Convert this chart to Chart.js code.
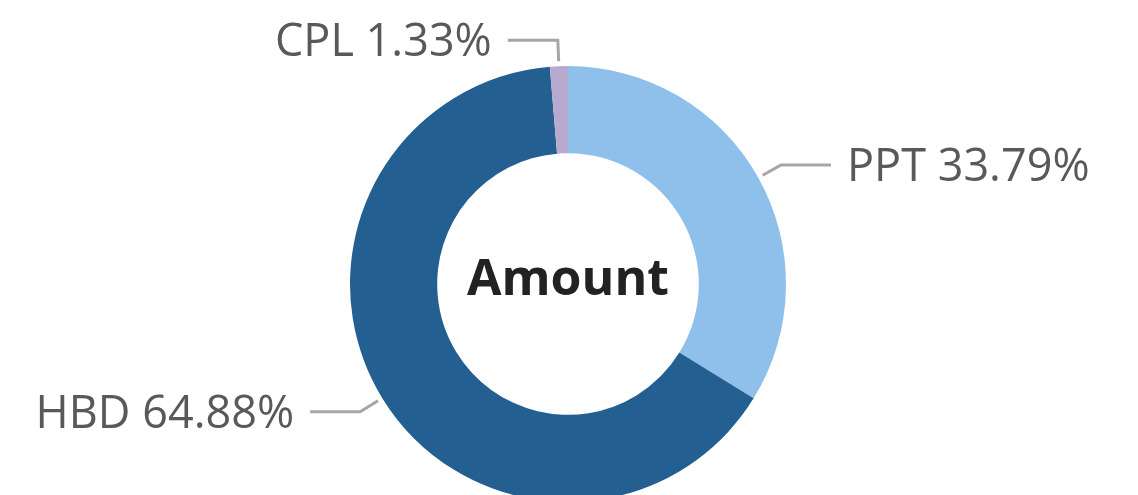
<!DOCTYPE html>
<html>
<head>
<meta charset="utf-8">
<script src="https://cdn.jsdelivr.net/npm/chart.js@4.4.1/dist/chart.umd.min.js"></script>
<style>
  html, body { margin: 0; padding: 0; background: #fff; overflow: hidden; }
  #wrap { position: relative; width: 1138px; height: 520px; }
</style>
</head>
<body>
<div id="wrap"><canvas id="c" width="1138" height="520"></canvas></div>
<script>
const categories = ['PPT', 'HBD', 'CPL'];
const percentValues = [33.79, 64.88, 1.33];
const sliceColors = ['#8FC0EB', '#245F91', '#B8AACF'];
const centerTitle = 'Amount';

const labelFont = '400 45px "Open Sans", "Noto Sans", sans-serif';
const titleFont = '700 50px "Open Sans", "Noto Sans", sans-serif';

const calloutPlugin = {
  id: 'callouts',
  afterDraw(chart) {
    const ctx = chart.ctx;
    const meta = chart.getDatasetMeta(0);
    const ds = chart.data.datasets[0];
    ctx.save();
    meta.data.forEach((arc, i) => {
      const p = arc.getProps(['x', 'y', 'startAngle', 'endAngle', 'outerRadius'], true);
      const mid = (p.startAngle + p.endAngle) / 2;
      const cos = Math.cos(mid), sin = Math.sin(mid);
      const r0 = p.outerRadius + 5, r1 = p.outerRadius + 26;
      const sx = p.x + cos * r0, sy = p.y + sin * r0;
      const ex = p.x + cos * r1, ey = p.y + sin * r1;
      const dir = cos >= 0 ? 1 : -1;
      const hx = ex + dir * 50;
      ctx.strokeStyle = '#A6A6A6';
      ctx.lineWidth = 3;
      ctx.beginPath();
      ctx.moveTo(sx, sy);
      ctx.lineTo(ex, ey);
      ctx.lineTo(hx, ey);
      ctx.stroke();
      ctx.fillStyle = '#595959';
      ctx.font = labelFont;
      ctx.textBaseline = 'middle';
      ctx.textAlign = dir > 0 ? 'left' : 'right';
      const txt = chart.data.labels[i] + ' ' + ds.data[i].toFixed(2) + '%';
      ctx.fillText(txt, hx + dir * 16, ey + 3);
    });
    const a = meta.data[0];
    ctx.fillStyle = '#222222';
    ctx.font = titleFont;
    ctx.textAlign = 'center';
    ctx.textBaseline = 'middle';
    ctx.fillText(centerTitle, a.x, a.y - 3);
    ctx.restore();
  }
};

new Chart(document.getElementById('c'), {
  type: 'doughnut',
  data: {
    labels: categories,
    datasets: [{
      data: percentValues,
      backgroundColor: sliceColors,
      borderWidth: 0
    }]
  },
  options: {
    responsive: false,
    animation: false,
    cutout: '60%',
    layout: { padding: { top: 66, bottom: 18, left: 0, right: 2 } },
    plugins: {
      legend: { display: false },
      tooltip: { enabled: false }
    }
  },
  plugins: [calloutPlugin]
});
</script>
</body>
</html>
